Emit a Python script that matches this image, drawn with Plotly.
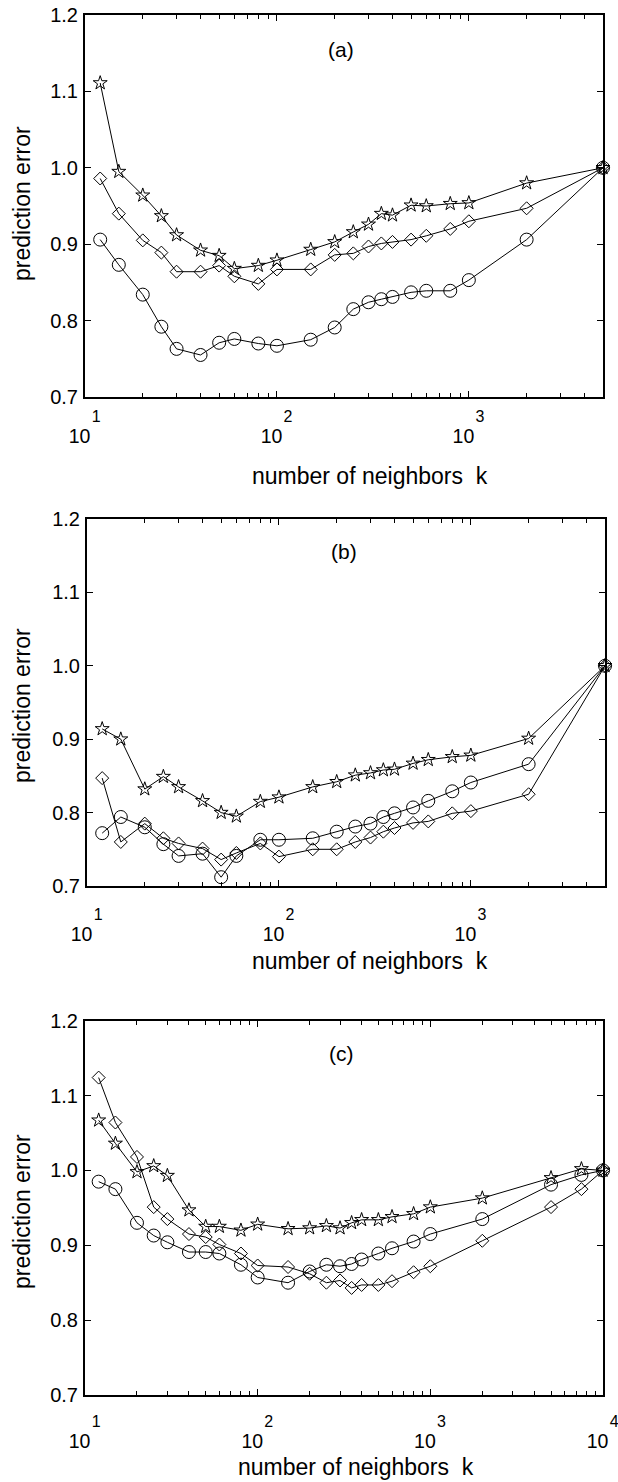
import numpy as np
import plotly.graph_objects as go

W, H = 618, 1482

# ---------------- data ----------------
k_ab = [12, 15, 20, 25, 30, 40, 50, 60, 80, 100, 150, 200, 250, 300, 350, 400,
        500, 600, 800, 1000, 2000, 5000]
k_c = [12, 15, 20, 25, 30, 40, 50, 60, 80, 100, 150, 200, 250, 300, 350, 400,
       500, 600, 800, 1000, 2000, 5000, 7500, 10000]

a_star = [1.111, 0.995, 0.964, 0.937, 0.912, 0.892, 0.885, 0.868, 0.872, 0.879, 0.893,
          0.903, 0.916, 0.926, 0.940, 0.938, 0.951, 0.950, 0.953, 0.954, 0.980, 1.000]
a_diamond = [0.986, 0.940, 0.905, 0.889, 0.864, 0.864, 0.872, 0.858, 0.848, 0.867, 0.867,
             0.886, 0.888, 0.897, 0.901, 0.903, 0.906, 0.911, 0.920, 0.930, 0.947, 1.000]
a_circle = [0.906, 0.873, 0.834, 0.792, 0.763, 0.755, 0.771, 0.776, 0.770, 0.767, 0.775,
            0.791, 0.815, 0.824, 0.828, 0.831, 0.837, 0.839, 0.839, 0.853, 0.906, 1.000]

b_star = [0.914, 0.900, 0.832, 0.849, 0.835, 0.816, 0.800, 0.795, 0.815, 0.821, 0.835,
          0.842, 0.851, 0.854, 0.858, 0.859, 0.867, 0.872, 0.876, 0.878, 0.901, 1.000]
b_diamond = [0.847, 0.760, 0.785, 0.765, 0.758, 0.751, 0.736, 0.745, 0.758, 0.740, 0.750,
             0.750, 0.760, 0.766, 0.774, 0.779, 0.786, 0.788, 0.799, 0.802, 0.825, 1.000]
b_circle = [0.772, 0.794, 0.780, 0.757, 0.741, 0.744, 0.712, 0.741, 0.763, 0.763, 0.765,
            0.774, 0.781, 0.785, 0.794, 0.799, 0.807, 0.816, 0.829, 0.841, 0.866, 1.000]

c_star = [1.067, 1.036, 0.998, 1.006, 0.993, 0.947, 0.925, 0.925, 0.920, 0.928, 0.922,
          0.923, 0.926, 0.923, 0.930, 0.934, 0.934, 0.938, 0.942, 0.951, 0.963, 0.990,
          1.002, 1.000]
c_diamond = [1.124, 1.064, 1.018, 0.951, 0.935, 0.915, 0.911, 0.901, 0.889, 0.873, 0.871,
             0.862, 0.850, 0.853, 0.843, 0.847, 0.847, 0.852, 0.864, 0.872, 0.906, 0.951,
             0.975, 1.000]
c_circle = [0.985, 0.975, 0.930, 0.913, 0.904, 0.891, 0.891, 0.889, 0.874, 0.857, 0.850,
            0.865, 0.874, 0.872, 0.875, 0.881, 0.889, 0.896, 0.905, 0.915, 0.935, 0.981,
            0.994, 1.000]

y_ticks = [0.7, 0.8, 0.9, 1.0, 1.1, 1.2]
panel_labels = ["(a)", "(b)", "(c)"]
x_title = "number of neighbors\u00a0 k"
y_title = "prediction error"

panels = [
    dict(k=k_ab, series=[a_circle, a_diamond, a_star], box=(85, 603, 15, 397),
         label_xy=(340.5, 50), xt_xy=(370, 476), yt_xy=(22, 204), standoff=4),
    dict(k=k_ab, series=[b_circle, b_diamond, b_star], box=(87, 605, 519, 886),
         label_xy=(343.7, 551), xt_xy=(370, 961), yt_xy=(22, 706), standoff=13),
    dict(k=k_c, series=[c_circle, c_diamond, c_star], box=(85, 603, 1020.7, 1395),
         label_xy=(341.7, 1053), xt_xy=(356, 1467), yt_xy=(22, 1212), standoff=11),
]

symbols = ["circle-open", "diamond-open", "star-open"]
sizes = [13, 10, 10.5]

FONT = "Liberation Sans, Arial, sans-serif"
NB = "\u00a0"


def dec_label(d):
    return NB * 5 + str(d) + "<br><span style='font-size:19.5px'>10" + NB * 2 + "</span>"


fig = go.Figure()
layout = dict(
    width=W, height=H, margin=dict(l=0, r=0, t=0, b=0, autoexpand=False),
    paper_bgcolor="white", plot_bgcolor="white", showlegend=False,
    font=dict(family=FONT, color="black"),
)
annotations = []

for i, p in enumerate(panels):
    n = "" if i == 0 else str(i + 1)
    x0, x1, ytop, ybot = p["box"]
    for s, sym, sz in zip(p["series"], symbols, sizes):
        fig.add_trace(go.Scatter(
            x=p["k"], y=s, mode="lines+markers", xaxis="x" + n, yaxis="y" + n,
            line=dict(color="black", width=1),
            marker=dict(symbol=sym, size=sz, color="black", line=dict(width=1, color="black")),
            cliponaxis=False,
        ))
    kmax = max(p["k"])
    top_dec = int(np.floor(np.log10(kmax) + 1e-9))
    major = [10 ** d for d in range(1, top_dec + 1)]
    ticktext = [dec_label(d) for d in range(1, top_dec + 1)]
    minor = [m * 10 ** d for d in range(1, top_dec + 1) for m in range(2, 10) if m * 10 ** d <= kmax]
    layout["xaxis" + n] = dict(
        type="log", range=[1, np.log10(kmax)],
        domain=[x0 / W, x1 / W], anchor="y" + n, automargin=False,
        showline=True, linecolor="black", linewidth=2, mirror="allticks",
        ticks="inside", ticklen=6, tickwidth=1, tickcolor="black",
        tickmode="array", tickvals=major, ticktext=ticktext,
        tickfont=dict(size=16, family=FONT, color="black"),
        ticklabelstandoff=p["standoff"], ticklabeloverflow="allow",
        minor=dict(ticks="inside", ticklen=4, tickwidth=1, tickcolor="black",
                   tickmode="array", tickvals=minor, showgrid=False),
        showgrid=False, zeroline=False,
    )
    layout["yaxis" + n] = dict(
        range=[0.7, 1.2], domain=[1 - ybot / H, 1 - ytop / H], anchor="x" + n,
        automargin=False,
        showline=True, linecolor="black", linewidth=2, mirror="allticks",
        ticks="inside", ticklen=6, tickwidth=1, tickcolor="black",
        tickmode="array", tickvals=y_ticks, ticktext=["%.1f" % v for v in y_ticks],
        tickfont=dict(size=20, family=FONT, color="black"),
        ticklabelstandoff=1, ticklabeloverflow="allow",
        showgrid=False, zeroline=False,
    )
    lx, ly = p["label_xy"]
    annotations.append(dict(text=panel_labels[i], x=lx / W, y=1 - ly / H, xref="paper", yref="paper",
                            showarrow=False, xanchor="center", yanchor="middle",
                            font=dict(size=21, family=FONT, color="black")))
    tx, ty = p["xt_xy"]
    annotations.append(dict(text=x_title, x=tx / W, y=1 - ty / H, xref="paper", yref="paper",
                            showarrow=False, xanchor="center", yanchor="middle",
                            font=dict(size=23, family=FONT, color="black")))
    yx, yy = p["yt_xy"]
    annotations.append(dict(text=y_title, x=yx / W, y=1 - yy / H, xref="paper", yref="paper",
                            showarrow=False, xanchor="center", yanchor="middle", textangle=-90,
                            font=dict(size=23, family=FONT, color="black")))

layout["annotations"] = annotations
fig.update_layout(**layout)
fig.write_html("out.html")
